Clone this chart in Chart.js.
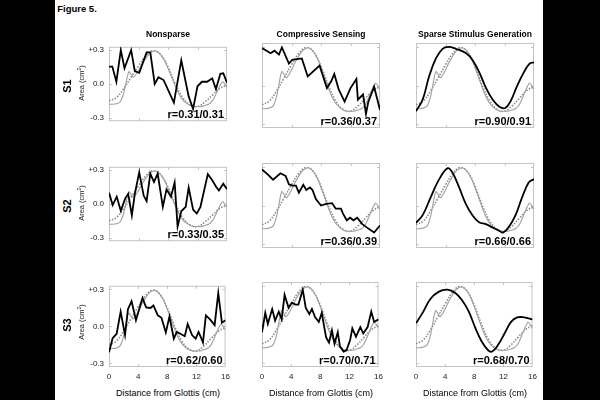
<!DOCTYPE html>
<html>
<head>
<meta charset="utf-8">
<script src="https://cdn.jsdelivr.net/npm/chart.js@4/dist/chart.umd.min.js"></script>
<style>
  html, body { margin: 0; padding: 0; background: #000; }
  #page { position: relative; width: 600px; height: 400px; background: #000; overflow: hidden;
          font-family: "Liberation Sans", Arial, sans-serif; }
  #sheet { position: absolute; left: 55px; top: 0; width: 488px; height: 400px; background: #fff; }
  .lbl { position: absolute; white-space: nowrap; color: #000; line-height: 1; }
  .panel { position: absolute; }
</style>
</head>
<body>
<div id="page"><div id="sheet"></div></div>
<script>
// axis ticks and labels
const xTicks = [0, 4, 8, 12, 16];
const yTicks = [-0.3, 0, 0.3];
const columnTitles = ['Nonsparse', 'Compressive Sensing', 'Sparse Stimulus Generation'];
const rowLabels = ['S1', 'S2', 'S3'];
const rValues = [
    ['r=0.31/0.31', 'r=0.36/0.37', 'r=0.90/0.91'],
    ['r=0.33/0.35', 'r=0.36/0.39', 'r=0.66/0.66'],
    ['r=0.62/0.60', 'r=0.70/0.71', 'r=0.68/0.70'],
];

// target area function (gray solid) and its smoothed version (gray dotted), [cm, cm2]
const targetSolid = [[0,-0.18],[0.5,-0.18],[1,-0.175],[1.5,-0.16],[2,-0.08],[2.5,0.07],[2.7,0.11],[3.3,0.06],
    [3.6,0.08],[4,0.12],[4.5,0.18],[5,0.23],[5.5,0.27],[6,0.29],[6.5,0.29],[7,0.26],[7.5,0.21],[8,0.14],
    [8.5,0.06],[9,-0.02],[9.5,-0.09],[10,-0.14],[10.5,-0.17],[11,-0.19],[11.5,-0.2],[12,-0.2],[12.5,-0.2],
    [13,-0.19],[13.5,-0.18],[14,-0.15],[14.5,-0.09],[15,-0.02],[15.4,0.02],[15.7,0.0],[16,-0.03]];
const targetDotted = [[0,-0.15],[1,-0.12],[2,-0.04],[3,0.06],[4,0.16],[5,0.25],[6,0.295],[7,0.26],[8,0.15],
    [9,0.0],[10,-0.12],[11,-0.185],[12,-0.2],[13,-0.16],[14,-0.1],[15,-0.04],[16,-0.01]];

// reconstructions (black), one per panel
const nonsparseS1 = [[0,0.155],[0.45,0.155],[1,0.02],[1.6,0.3],[2.1,0.14],[3,0.3],[3.5,0.115],[4.1,0.1],
    [5.1,0.28],[5.6,0.28],[6.2,0.0],[6.7,0.06],[7.4,0.035],[8.8,-0.165],[9.8,0.21],[10.8,-0.11],[11.4,-0.22],
    [12,-0.02],[12.6,0.02],[13.3,0.02],[14,0.05],[14.5,-0.045],[15.1,0.09],[15.5,0.095],[16,0.01]];
const compressiveS1 = [[0,0.29],[0.45,0.275],[1.15,0.25],[1.7,0.27],[2.3,0.24],[2.7,0.295],[3.65,0.17],
    [4.1,0.2],[5.4,0.21],[6.2,0.07],[7.8,0.155],[8.8,-0.02],[9.4,0.035],[9.8,0.09],[10.4,-0.03],[11.2,-0.125],
    [12,-0.02],[12.8,0.05],[13,-0.11],[13.7,-0.07],[14.1,-0.22],[14.4,-0.13],[15.2,-0.01],[16,-0.19]];
const sparseS1 = [[0,-0.2],[0.9,-0.11],[1.8,0.075],[2.7,0.21],[3.6,0.285],[4.4,0.3],[5.4,0.285],[6.8,0.25],
    [7.7,0.195],[8.6,0.1],[9.5,-0.02],[10.4,-0.11],[11.3,-0.165],[12.1,-0.175],[12.8,-0.125],[13.7,-0.005],
    [14.6,0.1],[15.4,0.17],[16,0.18]];
const nonsparseS2 = [[0,0.1],[0.5,-0.01],[1.05,0.065],[1.6,-0.06],[2.2,0.05],[2.6,0.09],[3.1,-0.1],[3.5,0.09],
    [4.1,0.28],[4.7,0.075],[5.1,0.025],[5.6,0.27],[6.1,0.195],[6.6,0.27],[7.3,-0.025],[7.8,0.13],[8.4,0.065],
    [8.9,0.19],[9.3,-0.2],[9.8,-0.065],[10.4,-0.025],[10.8,0.145],[11.4,-0.05],[11.9,-0.085],[12.4,-0.025],
    [13.4,0.265],[14,0.21],[14.5,0.155],[14.9,0.12],[15.5,0.18],[16,0.13]];
const compressiveS2 = [[0,0.28],[0.7,0.245],[1.5,0.2],[2.5,0.25],[3.2,0.23],[3.65,0.165],[4.1,0.155],
    [4.6,0.155],[5,0.1],[5.6,0.16],[6,0.12],[6.5,0.14],[6.85,0.12],[7.3,0.05],[8,0.0],[8.7,0.013],[9.5,0.018],
    [10,-0.025],[10.7,-0.025],[11,-0.065],[11.5,-0.115],[11.95,-0.095],[12.4,-0.115],[12.9,-0.095],
    [13.6,-0.145],[14.2,-0.17],[15.2,-0.21],[16,-0.155]];
const sparseS2 = [[0,-0.135],[0.9,-0.075],[2,0.065],[3.15,0.205],[4.3,0.29],[4.95,0.255],[5.85,0.14],
    [6.75,0.013],[7.65,-0.075],[8.55,-0.13],[9.45,-0.145],[10.35,-0.17],[11.25,-0.195],[11.8,-0.21],
    [12.6,-0.165],[13.5,-0.075],[14.4,0.065],[15.3,0.18],[16,0.205]];
const nonsparseS3 = [[0,-0.21],[0.5,-0.095],[1.05,-0.06],[1.6,0.12],[2.2,-0.07],[2.6,0.14],[3.1,0.205],
    [3.7,0.05],[4.6,0.23],[5.1,0.155],[5.7,0.15],[6.1,0.17],[6.7,0.09],[7.2,0.07],[7.8,-0.05],[8.3,0.08],
    [8.9,-0.1],[9.3,-0.045],[9.8,-0.06],[10.4,-0.08],[10.8,0.02],[11.4,-0.07],[11.9,-0.1],[12.3,-0.045],
    [12.9,-0.13],[13.3,0.09],[13.9,0.055],[14.5,0.01],[15,0.27],[15.5,0.03],[16,0.05]];
const compressiveS3 = [[0,-0.06],[0.45,0.09],[0.8,0.005],[1.4,0.12],[1.8,0.03],[2.3,0.1],[2.7,0.04],
    [3.1,0.23],[3.65,0.13],[4.1,0.17],[4.6,0.155],[5,0.155],[5.6,0.27],[6,0.13],[6.5,0.08],[6.85,0.12],
    [7.3,0.055],[7.8,0.02],[8.2,0.09],[8.8,-0.1],[9.2,-0.14],[9.6,-0.045],[9.95,-0.15],[10.4,-0.06],
    [10.7,-0.17],[11.2,-0.21],[11.6,-0.2],[12.1,-0.12],[12.4,-0.03],[12.9,-0.095],[13.5,-0.02],[13.9,-0.07],
    [14.5,-0.02],[15,0.1],[15.4,0.02],[16,0.04]];
const sparseS3 = [[0,0.01],[0.9,0.09],[2,0.2],[3.15,0.255],[4.3,0.27],[5.4,0.245],[6.3,0.19],[7.2,0.105],
    [8.1,-0.02],[9,-0.13],[9.9,-0.2],[10.45,-0.21],[11.25,-0.16],[12.15,-0.07],[13.05,0.02],[13.9,0.055],
    [14.85,0.055],[16,0.04]];

const panels = [
    [nonsparseS1, compressiveS1, sparseS1],
    [nonsparseS2, compressiveS2, sparseS2],
    [nonsparseS3, compressiveS3, sparseS3],
];

// plot box positions on the page
const boxLefts = [109, 262, 416];
const boxTops = [43, 163, 282];
const boxW = 118;
const boxH = 85;
const padL = 30, padT = 6, padR = 8;

const page = document.getElementById('page');

function label(text, x, y, css, rotate) {
    const d = document.createElement('div');
    d.className = 'lbl';
    d.textContent = text;
    Object.assign(d.style, css || {});
    d.style.left = x + 'px';
    d.style.top = y + 'px';
    d.style.transform = 'translate(-50%,-50%)' + (rotate ? ' rotate(-90deg)' : '');
    page.appendChild(d);
    return d;
}

const toXY = (pairs) => pairs.map((p) => ({ x: p[0], y: p[1] }));

const framePlugin = {
    id: 'frame',
    beforeDatasetsDraw(chart) {
        const { ctx, chartArea: a, scales } = chart;
        ctx.save();
        ctx.strokeStyle = '#c4c4c4';
        ctx.lineWidth = 1;
        ctx.strokeRect(a.left + 0.5, a.top + 0.5, a.right - a.left - 1, a.bottom - a.top - 1);
        ctx.beginPath();
        [4, 8, 12].forEach((v) => {
            const px = Math.round(scales.x.getPixelForValue(v)) + 0.5;
            ctx.moveTo(px, a.top); ctx.lineTo(px, a.top + 3);
            ctx.moveTo(px, a.bottom); ctx.lineTo(px, a.bottom - 3);
        });
        yTicks.forEach((v) => {
            const py = Math.round(scales.y.getPixelForValue(v)) + 0.5;
            ctx.moveTo(a.left, py); ctx.lineTo(a.left + 3, py);
            ctx.moveTo(a.right, py); ctx.lineTo(a.right - 3, py);
        });
        ctx.stroke();
        ctx.restore();
    },
    afterDatasetsDraw(chart, args, opts) {
        const { ctx, chartArea: a } = chart;
        ctx.save();
        ctx.font = 'bold 11px "Liberation Sans", Arial, sans-serif';
        ctx.fillStyle = '#000';
        ctx.textAlign = 'right';
        ctx.textBaseline = 'alphabetic';
        ctx.fillText(opts.text, a.right - 3, a.bottom - 3);
        ctx.restore();
    },
};

panels.forEach((row, r) => {
    row.forEach((series, c) => {
        const padB = r === 2 ? 17 : 3;
        const wrap = document.createElement('div');
        wrap.className = 'panel';
        const w = boxW + padL + padR;
        const h = boxH + padT + padB;
        wrap.style.left = (boxLefts[c] - padL) + 'px';
        wrap.style.top = (boxTops[r] - padT) + 'px';
        wrap.style.width = w + 'px';
        wrap.style.height = h + 'px';
        const canvas = document.createElement('canvas');
        canvas.width = w;
        canvas.height = h;
        wrap.appendChild(canvas);
        page.appendChild(wrap);

        new Chart(canvas, {
            type: 'line',
            data: {
                datasets: [
                    { data: toXY(series), borderColor: '#000', borderWidth: 1.8,
                      tension: c === 2 ? 0.4 : 0 },
                    { data: toXY(targetSolid), borderColor: '#a0a0a0', borderWidth: 1.1, tension: 0.15 },
                    { data: toXY(targetDotted), borderColor: '#8a8a8a', borderWidth: 1.6,
                      borderDash: [1.5, 1.5], tension: 0.4 },
                ],
            },
            options: {
                responsive: false,
                animation: false,
                events: [],
                layout: { padding: { top: padT, right: padR, left: 0, bottom: 0 } },
                elements: { point: { radius: 0 } },
                plugins: {
                    legend: { display: false },
                    tooltip: { enabled: false },
                    frame: { text: rValues[r][c] },
                },
                scales: {
                    x: {
                        type: 'linear', min: 0, max: 16,
                        afterBuildTicks: (s) => { s.ticks = xTicks.map((v) => ({ value: v })); },
                        afterFit: (s) => { s.height = padB; },
                        grid: { display: false, drawTicks: false },
                        border: { display: false },
                        ticks: { display: r === 2, autoSkip: false, maxRotation: 0, padding: 5,
                                 color: '#222', font: { size: 8, family: '"Liberation Sans", Arial' } },
                    },
                    y: {
                        min: -0.33, max: 0.33,
                        afterBuildTicks: (s) => { s.ticks = yTicks.map((v) => ({ value: v })); },
                        afterFit: (s) => { s.width = padL; },
                        grid: { display: false, drawTicks: false },
                        border: { display: false },
                        ticks: { display: c === 0, padding: 5, color: '#222',
                                 font: { size: 8, family: '"Liberation Sans", Arial' },
                                 callback: (v) => (v > 0 ? '+' + v.toFixed(1) : v.toFixed(1)) },
                    },
                },
            },
            plugins: [framePlugin],
        });
    });
});

// figure labels
label('Figure 5.', 77, 9, { fontWeight: 'bold', fontSize: '9.5px' });
columnTitles.forEach((t, c) => {
    label(t, boxLefts[c] + boxW / 2, 34, { fontWeight: 'bold', fontSize: '8.5px' });
    label('Distance from Glottis (cm)', boxLefts[c] + boxW / 2, 393, { fontSize: '9px' });
});
rowLabels.forEach((t, r) => {
    const cy = boxTops[r] + boxH / 2;
    label(t, 67, cy, { fontWeight: 'bold', fontSize: '11px' }, true);
    const a = label('', 81, cy - 3, { fontSize: '7.5px', color: '#222' }, true);
    a.innerHTML = 'Area (cm<sup style="font-size:5px">2</sup>)';
});
</script>
</body>
</html>
